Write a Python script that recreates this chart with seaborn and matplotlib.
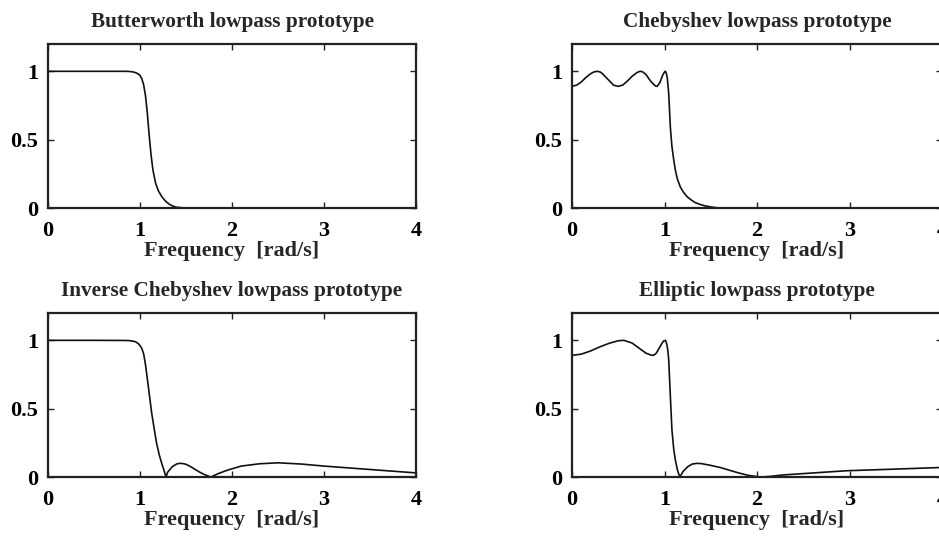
import seaborn as sns
import matplotlib.pyplot as plt
import pandas as pd

# magnitude responses (frequency in rad/s, magnitude)
butter_w = [0, 0.5, 0.85, 0.9, 0.94, 0.97, 1.0, 1.02, 1.04, 1.06, 1.08, 1.1, 1.12, 1.14,
            1.17, 1.2, 1.24, 1.28, 1.32, 1.36, 1.4, 1.5, 2, 3, 4]
butter_h = [1, 1, 1, 0.998, 0.993, 0.985, 0.97, 0.945, 0.9, 0.82, 0.69, 0.53, 0.39, 0.28,
            0.18, 0.125, 0.08, 0.048, 0.027, 0.013, 0.005, 0, 0, 0, 0]

cheb_w = [0, 0.05, 0.1, 0.15, 0.2, 0.235, 0.27, 0.305, 0.33, 0.4, 0.45, 0.5, 0.55,
          0.6, 0.65, 0.7, 0.725, 0.746, 0.77, 0.8, 0.85, 0.9, 0.92, 0.95, 0.98,
          1.0, 1.01, 1.02, 1.03, 1.045, 1.063, 1.08, 1.1, 1.117, 1.14, 1.17, 1.2,
          1.243, 1.29, 1.333, 1.39, 1.44, 1.5, 1.55, 1.6, 2, 3, 4]
cheb_h = [0.89, 0.899, 0.922, 0.955, 0.982, 0.995, 1.0, 0.995, 0.982, 0.933, 0.898,
          0.89, 0.9, 0.93, 0.964, 0.99, 0.998, 1.0, 0.993, 0.976, 0.928, 0.893,
          0.89, 0.918, 0.972, 0.995, 1.0, 0.985, 0.95, 0.84, 0.59, 0.45, 0.35,
          0.277, 0.21, 0.155, 0.12, 0.083, 0.058, 0.039, 0.025, 0.015, 0.008,
          0.003, 0, 0, 0, 0]

icheb_w = [0, 0.5, 0.85, 0.9, 0.95, 0.98, 1.0, 1.02, 1.04, 1.06, 1.09, 1.127, 1.155,
           1.18, 1.21, 1.236, 1.26, 1.283, 1.3, 1.35, 1.4, 1.435, 1.47, 1.5, 1.55,
           1.6, 1.65, 1.7, 1.77, 1.85, 1.95, 2.1, 2.3, 2.5, 2.75, 3.0, 3.5, 4.0]
icheb_h = [1, 1, 0.999, 0.997, 0.99, 0.977, 0.962, 0.94, 0.9, 0.82, 0.664, 0.468,
           0.35, 0.248, 0.16, 0.1, 0.05, 0.0, 0.035, 0.075, 0.096, 0.1, 0.098,
           0.093, 0.076, 0.055, 0.035, 0.018, 0.0, 0.025, 0.05, 0.08, 0.097,
           0.104, 0.095, 0.08, 0.055, 0.03]

ellip_w = [0, 0.1, 0.2, 0.3, 0.4, 0.5, 0.56, 0.65, 0.72, 0.8, 0.85, 0.88, 0.91,
           0.94, 0.97, 0.99, 1.01, 1.025, 1.035, 1.045, 1.063, 1.08, 1.1, 1.117,
           1.14, 1.165, 1.2, 1.25, 1.3, 1.35, 1.4, 1.5, 1.6, 1.7, 1.8, 1.9, 2.0,
           2.05, 2.15, 2.28, 2.5, 2.97, 3.5, 4.0]
ellip_h = [0.89, 0.899, 0.922, 0.952, 0.978, 0.997, 1.0, 0.98, 0.945, 0.906,
           0.893, 0.89, 0.905, 0.94, 0.976, 0.995, 1.0, 0.97, 0.93, 0.86, 0.59,
           0.345, 0.2, 0.125, 0.05, 0.0, 0.04, 0.075, 0.095, 0.1, 0.098, 0.085,
           0.07, 0.05, 0.03, 0.013, 0.003, 0.0, 0.005, 0.015, 0.025, 0.046,
           0.058, 0.07]

titles = ["Butterworth lowpass prototype", "Chebyshev lowpass prototype",
          "Inverse Chebyshev lowpass prototype", "Elliptic lowpass prototype"]
curves = [(butter_w, butter_h), (cheb_w, cheb_h), (icheb_w, icheb_h), (ellip_w, ellip_h)]

sns.set_theme(style="ticks")
plt.rcParams["font.family"] = ["Liberation Serif", "DejaVu Serif"]
plt.rcParams["font.weight"] = "bold"

fig = plt.figure(figsize=(9.39, 5.39), dpi=100)
# right-hand panels run slightly past the figure edge, as in the original
positions = [[0.0511, 0.6141, 0.392, 0.3043],
             [0.6092, 0.6141, 0.394, 0.3043],
             [0.0511, 0.1150, 0.392, 0.3043],
             [0.6092, 0.1150, 0.394, 0.3043]]

for pos, title, (w, h) in zip(positions, titles, curves):
    ax = fig.add_axes(pos)
    df = pd.DataFrame({"w": w, "h": h})
    sns.lineplot(data=df, x="w", y="h", ax=ax, color="#111111", linewidth=1.2)
    ax.set_xlim(0, 4)
    ax.set_ylim(0, 1.2)
    ax.set_xticks([0, 1, 2, 3, 4])
    ax.set_xticklabels(["0", "1", "2", "3", "4"])
    ax.set_yticks([0, 0.5, 1])
    ax.set_yticklabels(["0", "0.5", "1"])
    ax.tick_params(direction="in", top=True, right=True, length=4, width=1,
                   labelsize=16, colors="#222222", pad=7)
    ax.tick_params(axis="x", pad=9)
    for lbl in ax.get_xticklabels() + ax.get_yticklabels():
        lbl.set_fontweight("bold")
        lbl.set_color("black")
    for s in ax.spines.values():
        s.set_linewidth(1.6)
        s.set_color("#222222")
    ax.set_title(title, fontsize=15.3, fontweight="bold", pad=12)
    ax.set_xlabel("Frequency  [rad/s]", fontsize=16, fontweight="bold", labelpad=0)
    ax.set_ylabel("")

fig.savefig("out.png", dpi=100)
